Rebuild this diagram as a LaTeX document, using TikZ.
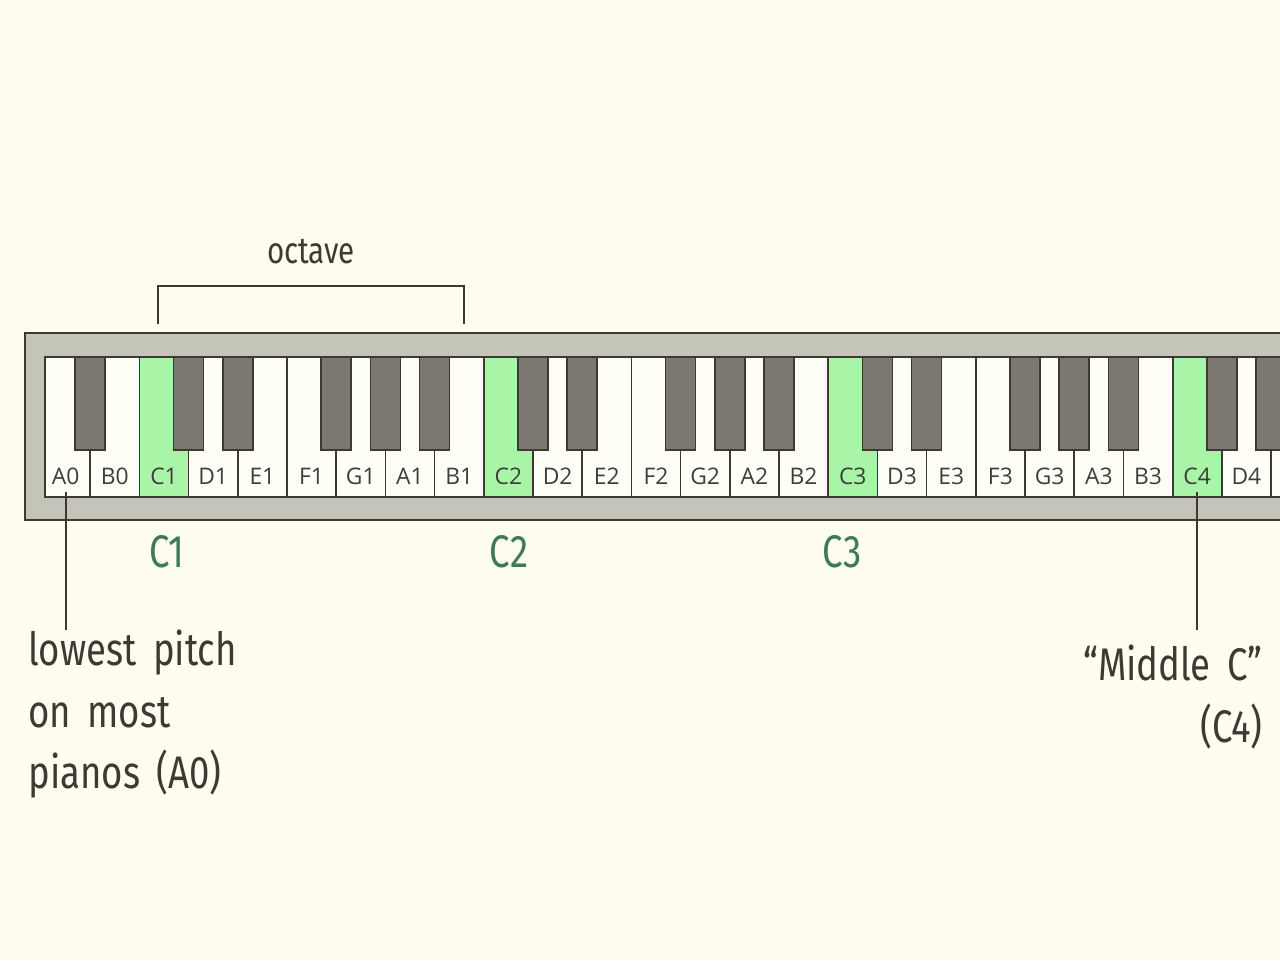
\documentclass[tikz,border=0pt]{standalone}
\usepackage{fontspec}
\setmainfont{Open Sans}
\newfontfamily\handfont[FakeStretch=0.8, WordSpace=1.7]{Fira Sans}
\usetikzlibrary{positioning}
\definecolor{pncream}{HTML}{FEFDF0}
\definecolor{pnwhite}{HTML}{FFFEF6}
\definecolor{pnframe}{HTML}{C4C4B8}
\definecolor{pnline}{HTML}{3D3A33}
\definecolor{pnblack}{HTML}{7D7772}
\definecolor{pngreen}{HTML}{A8F5A8}
\definecolor{pngreentext}{HTML}{3E7B55}
\definecolor{pnlabel}{HTML}{3F3D38}

\begin{document}
\begin{tikzpicture}[
  x=0.02cm, y=-0.02cm,
  every node/.style={font=\small},
  whitekey/.style={rectangle, draw=pnline, fill=pnwhite, line width=1pt, minimum width=0.984cm, minimum height=2.8cm, inner sep=0pt},
  ckey/.style={whitekey, fill=pngreen},
  blackkey/.style={rectangle, draw=pnline, fill=pnblack, line width=1pt, minimum width=0.6cm, minimum height=1.86cm, inner sep=0pt},
  keylabel/.style={font=\fontsize{13}{15}\selectfont, text=pnlabel, inner sep=1pt},
  handnote/.style={font=\handfont\fontsize{26}{35}\selectfont, text=pnline, inner sep=0pt},
  cnote/.style={handnote, text=pngreentext},
  pointer/.style={draw=pnline, line width=1.1pt},
  bracketline/.style={draw=pnline, line width=1.4pt},
]
\clip (0,0) rectangle (1280,960);
\fill[pncream] (0,0) rectangle (1280,960);

% white keys with their names
\foreach \n/\s [count=\i from 0] in {A0/whitekey, B0/whitekey,
    C1/ckey, D1/whitekey, E1/whitekey, F1/whitekey, G1/whitekey, A1/whitekey, B1/whitekey,
    C2/ckey, D2/whitekey, E2/whitekey, F2/whitekey, G2/whitekey, A2/whitekey, B2/whitekey,
    C3/ckey, D3/whitekey, E3/whitekey, F3/whitekey, G3/whitekey, A3/whitekey, B3/whitekey,
    C4/ckey, D4/whitekey} {
  \node[\s] (k\n) at ({41+(\i+0.5)*49.2}, 427) {};
  \node[keylabel] (t\n) at ({41+(\i+0.5)*49.2}, 476) {\n};
}
\node[whitekey] (kE4) at ({41+25.5*49.2}, 427) {};

% black keys sit on the boundaries
\foreach \b/\n in {1/As0, 3/Cs1, 4/Ds1, 6/Fs1, 7/Gs1, 8/As1, 10/Cs2, 11/Ds2,
    13/Fs2, 14/Gs2, 15/As2, 17/Cs3, 18/Ds3, 20/Fs3, 21/Gs3, 22/As3, 24/Cs4, 25/Ds4} {
  \node[blackkey] (k\n) at ({41+\b*49.2}, 403.5) {};
}

% case around the keys
\fill[pnframe, even odd rule] (25,333) rectangle (1300,520) (45,357) rectangle (1300,497);
\draw[pnline, line width=1.6pt] (25,333) rectangle (1300,520);
\draw[pnline, line width=1pt] (45,357) rectangle (1300,497);

% octave bracket
\node[handnote, font=\handfont\fontsize{21}{25}\selectfont] (octave) at (311,252) {octave};
\coordinate (octL) at (158,324);
\coordinate (octR) at (464,324);
\draw[bracketline] (octL) -- ++(0,-38) -| (octR);

% C markers under the case
\node[cnote] (cC1) at (167,552) {C1};
\node[cnote] (cC2) at (509,552) {C2};
\node[cnote] (cC3) at (842,552) {C3};

% callouts
\node[handnote, align=left, anchor=north west] (lowest) at (28,630) {lowest pitch\\on most\\pianos (A0)};
\node[handnote, align=right, anchor=north east] (middle) at (1263,645) {“Middle C”\\(C4)};

\draw[pointer] ([yshift=-3pt]tA0.south) -- (tA0.south |- lowest.north);
\draw[pointer] ([yshift=-3pt]tC4.south) -- (tC4.south |- lowest.north);

\end{tikzpicture}
\end{document}
